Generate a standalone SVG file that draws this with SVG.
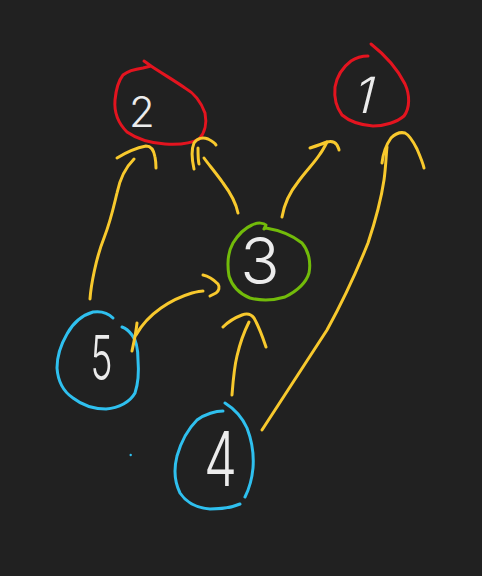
<svg xmlns="http://www.w3.org/2000/svg" width="482" height="576" viewBox="0 0 482 576">
<style>
.bg{fill:#212121}
.n{fill:none;stroke-width:3;stroke-linecap:round;stroke-linejoin:round}
.red{stroke:#e3141f}
.green{stroke:#72bb0a}
.blue{stroke:#2fc0ef}
.a{fill:none;stroke:#f8c92d;stroke-width:3;stroke-linecap:round;stroke-linejoin:round}
.t{fill:#ececec;font-family:Inter,Roboto,"Open Sans","DejaVu Sans",sans-serif;font-weight:300;text-anchor:middle}
</style>
<rect class="bg" x="0" y="0" width="482" height="576"/>
<g id="node2">
<path class="n red" d="M144,61 L151,66 L143,68 C136,69 128,71 123,75 C119,80 116,90 115,100 C114,112 118,123 127,132 C137,139 150,143 165,144 C180,145 192,143 199,139 C205,133 207,123 205,113 C201,102 194,93 185,88 C175,81 163,74 151,66"/>
<text class="t" x="142" y="127" font-size="42">2</text>
</g>
<g id="node1">
<path class="n red" d="M371,44 C385,55 398,70 405,84 C410,95 410,108 404,116 C397,122 385,126 373,126 C360,125 349,121 342,115 C336,107 334,97 335,87 C337,76 343,67 351,61 C357,57 363,56 368,56"/>
<g transform="translate(361,113) skewX(-14)"><text class="t" x="0" y="0" font-size="50">1</text></g>
</g>
<g id="node3">
<path class="n green" d="M266,228 C278,230 292,235 302,243 C309,251 311,263 309,273 C306,283 297,291 285,297 C275,300 262,301 250,298 C240,294 232,286 229,276 C227,264 228,252 233,243 C238,235 245,228 252,225 C258,222 264,223 266,225 L264,229 Z"/>
<text class="t" x="260" y="284" font-size="65">3</text>
</g>
<g id="node5">
<path class="n blue" d="M113,318 C108,313 100,311 93,312 C83,315 73,323 67,334 C60,346 57,358 57,368 C58,382 64,392 73,398 C82,405 94,409 106,409 C119,408 130,402 135,393 C138,384 139,372 138,360 C138,350 136,340 132,335 C129,331 125,328 122,327"/>
<g transform="translate(101.5,380) scale(0.6,1)"><text class="t" x="0" y="0" font-size="62">5</text></g>
<circle cx="130.7" cy="455" r="1.2" fill="#2fc0ef"/>
</g>
<g id="node4">
<path class="n blue" d="M223,411 C216,411 205,414 197,420 C189,428 181,442 177,456 C174,468 174,481 180,493 C186,502 197,508 210,509 C222,509 233,507 240,504"/>
<path class="n blue" d="M225,403 C233,408 242,417 247,428 C252,441 254,455 253,468 C252,479 249,489 245,497"/>
<g transform="translate(220.5,486) scale(0.7,1)"><text class="t" x="0" y="0" font-size="75">4</text></g>
</g>
<g id="connectors">
<path class="a" d="M90,299 C91,285 96,258 104,238 C111,220 114,205 117,193 C120,178 126,167 134,159"/>
<path class="a" d="M117,158 C125,153 136,148 146,146 C151,146 154,151 155,157 C156,162 156,166 156,168"/>
<path class="a" d="M238,213 C236,203 229,191 223,183 C216,173 209,165 204,158"/>
<path class="a" d="M194,169 C192,160 191,150 194,143 C197,138 203,137 208,139 C212,141 215,143 216,145"/>
<path class="a" d="M198,148 C198,154 198,160 199,164"/>
<path class="a" d="M282,217 C284,205 290,192 298,182 C306,171 315,162 320,154 C323,150 325,146 327,142"/>
<path class="a" d="M310,148 C316,146 322,144 327,142 C331,141 335,142 337,145 C338,147 339,149 339,150"/>
<path class="a" d="M262,430 C275,410 300,372 327,330 C343,301 358,268 368,243 C375,222 381,200 384,180 C386,166 386,155 387,147"/>
<path class="a" d="M382,163 C383,154 386,145 391,138 C396,133 401,132 405,133 C409,135 413,141 417,149 C420,156 423,163 424,168"/>
<path class="a" d="M232,395 C233,382 234,368 237,356 C240,343 245,330 249,322"/>
<path class="a" d="M223,327 C227,323 234,318 242,315 C247,313 251,314 254,318 C258,325 262,335 266,347"/>
<path class="a" d="M136,335 C141,326 151,315 161,308 C171,301 182,296 192,293 C196,292 200,291 203,291"/>
<path class="a" d="M203,275 C208,276 214,280 218,284 C220,287 219,291 216,293 C214,294 212,295 210,296"/>
<path class="a" d="M137,323 C136,333 134,342 132,351"/>
</g>
</svg>
